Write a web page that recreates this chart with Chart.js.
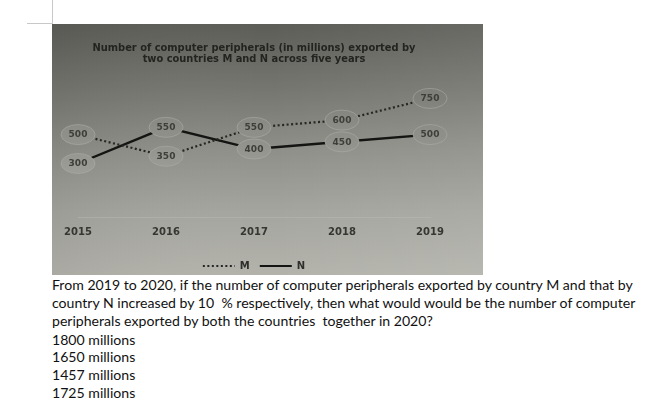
<!DOCTYPE html>
<html>
<head>
<meta charset="utf-8">
<script src="https://cdn.jsdelivr.net/npm/chart.js@4/dist/chart.umd.min.js"></script>
<style>
  html, body { margin:0; padding:0; background:#fff; width:661px; height:407px; overflow:hidden; }
  #photo { position:absolute; left:52px; top:24px; width:431px; height:251px; overflow:hidden; }
  #vline { position:absolute; left:52px; top:0; width:1px; height:23px; background:#c8c8c8; }
  #hline { position:absolute; left:27px; top:23px; width:26px; height:1px; background:#c8c8c8; }
  .q { position:absolute; left:52px; white-space:pre; font-family:"Lato","Open Sans",sans-serif; font-size:14.1px; color:#111; line-height:18px; }
</style>
</head>
<body>
<div id="vline"></div><div id="hline"></div>
<div id="photo"><canvas id="c" width="431" height="257"></canvas></div>
<div class="q" style="top:276px">From 2019 to 2020, if the number of computer peripherals exported by country M and that by</div>
<div class="q" style="top:294px">country N increased by 10  % respectively, then what would would be the number of computer</div>
<div class="q" style="top:312px">peripherals exported by both the countries  together in 2020?</div>
<div class="q" style="top:331px">1800 millions</div>
<div class="q" style="top:348px">1650 millions</div>
<div class="q" style="top:366px">1457 millions</div>
<div class="q" style="top:384px">1725 millions</div>
<script>
const years = ['2015', '2016', '2017', '2018', '2019'];
const seriesM = [500, 350, 550, 600, 750];
const seriesN = [300, 550, 400, 450, 500];
const titleLines = ['Number of computer peripherals (in millions) exported by', 'two countries M and N across five years'];

const photoBg = {
  id: 'photoBg',
  beforeDraw(chart) {
    const {ctx, width} = chart;
    const height = 251;
    const g = ctx.createLinearGradient(0, 0, 0, height);
    g.addColorStop(0, '#5d5d58');
    g.addColorStop(0.25, '#75756f');
    g.addColorStop(0.5, '#8f8f89');
    g.addColorStop(0.75, '#a5a59f');
    g.addColorStop(1, '#b3b3ac');
    ctx.save();
    ctx.fillStyle = g;
    ctx.fillRect(0, 0, width, chart.height);
    const h = ctx.createLinearGradient(0, 0, width, 0);
    h.addColorStop(0, 'rgba(0,0,0,0.05)');
    h.addColorStop(0.5, 'rgba(255,255,255,0)');
    h.addColorStop(1, 'rgba(255,255,255,0.07)');
    ctx.fillStyle = h;
    ctx.fillRect(0, 0, width, chart.height);
    ctx.restore();
    chart.$bg = g;
  }
};

const ellipseLabels = {
  id: 'ellipseLabels',
  afterDatasetsDraw(chart) {
    const ctx = chart.ctx;
    chart.data.datasets.forEach((ds, i) => {
      const meta = chart.getDatasetMeta(i);
      meta.data.forEach((pt, j) => {
        ctx.save();
        ctx.beginPath();
        ctx.ellipse(pt.x, pt.y, 17, 10, 0, 0, Math.PI * 2);
        ctx.fillStyle = chart.$bg;
        ctx.fill();
        ctx.fillStyle = 'rgba(255,255,255,0.06)';
        ctx.fill();
        ctx.strokeStyle = 'rgba(175,175,170,0.55)';
        ctx.lineWidth = 1;
        ctx.stroke();
        ctx.fillStyle = '#3e3e3a';
        ctx.font = 'bold 9px "DejaVu Sans"';
        ctx.textAlign = 'center';
        ctx.textBaseline = 'middle';
        ctx.fillText(String(ds.data[j]), pt.x, pt.y + 0.5);
        ctx.restore();
      });
    });
  }
};

new Chart(document.getElementById('c'), {
  type: 'line',
  data: {
    labels: years,
    datasets: [
      { label: 'M', data: seriesM, borderColor: '#262623', borderWidth: 2.2, borderDash: [2, 2.5], pointRadius: 0, tension: 0 },
      { label: 'N', data: seriesN, borderColor: '#141412', borderWidth: 2.4, pointRadius: 0, tension: 0 }
    ]
  },
  options: {
    responsive: false,
    animation: false,
    layout: { padding: { left: 26, right: 53, top: 0, bottom: 0 } },
    plugins: {
      tooltip: { enabled: false },
      title: {
        display: true,
        fullSize: false,
        text: titleLines,
        color: '#232320',
        font: { family: 'DejaVu Sans', weight: 'bold', size: 9.9, lineHeight: 1.11 },
        padding: { top: 18.5, bottom: 19.5 }
      },
      legend: {
        display: true,
        position: 'bottom',
        fullSize: false,
        labels: {
          usePointStyle: true,
          pointStyle: 'line',
          pointStyleWidth: 32,
          color: '#2e2e2b',
          font: { family: 'DejaVu Sans', weight: 'bold', size: 10 },
          padding: 10,
          generateLabels(chart) {
            const items = Chart.defaults.plugins.legend.labels.generateLabels(chart);
            items.forEach((it, i) => {
              const ds = chart.data.datasets[i];
              it.lineDash = ds.borderDash || [];
              it.lineWidth = 2;
              it.strokeStyle = ds.borderColor;
              it.pointStyle = 'line';
            });
            return items;
          }
        }
      }
    },
    scales: {
      x: {
        type: 'category',
        offset: false,
        grid: { display: false, drawTicks: false },
        border: { display: true, color: 'rgba(185,185,179,0.5)' },
        ticks: { color: '#363632', font: { family: 'DejaVu Sans', weight: 'bold', size: 10 }, padding: 9, maxRotation: 0 },
        afterFit(s) { s.height = 34; }
      },
      y: { display: false, min: -70, max: 850 }
    }
  },
  plugins: [photoBg, ellipseLabels]
});
</script>
</body>
</html>
